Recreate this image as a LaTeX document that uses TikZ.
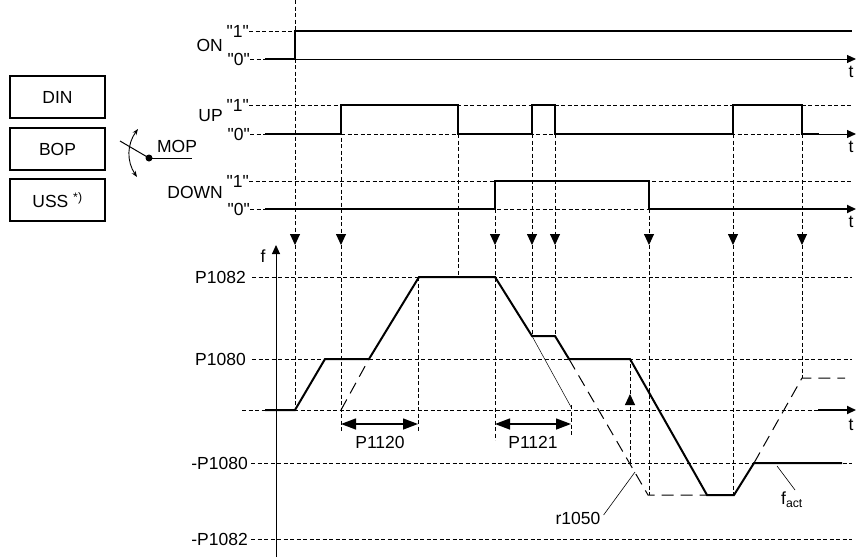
\documentclass[tikz,border=0pt]{standalone}
\usepackage{fontspec}
\newfontfamily\arial{Liberation Sans}
\usetikzlibrary{arrows.meta}

\begin{document}
\begin{tikzpicture}[x=1pt,y=-1pt,
  every node/.style={font=\arial\fontsize{17.5}{20}\selectfont,inner sep=0pt},
  sig/.style={line width=2pt},
  axis/.style={line width=1pt,-{Triangle[length=9pt,width=8pt]}},
  gridline/.style={line width=0.9pt,dash pattern=on 4pt off 2.5pt},
  trig/.style={gridline,-{Triangle[length=11pt,width=10pt]}},
  setp/.style={line width=1pt,dash pattern=on 12pt off 7pt},
  dimline/.style={line width=1.4pt,{Triangle[length=15pt,width=11pt]}-{Triangle[length=15pt,width=11pt]}},
  src/.style={draw,line width=1.2pt,minimum width=95pt,minimum height=42pt}]

  \useasboundingbox (0,0) rectangle (856,557);

  % sources and switch
  \node[src] (din) at (57.5,97) {DIN};
  \node[src] (bop) at (57.5,149) {BOP};
  \node[src] (uss) at (57.5,200) {USS \textsuperscript{*)}};
  \node[circle,fill,minimum size=7pt] (pivot) at (149,158) {};
  \coordinate (mopend) at (192,158);
  \coordinate (blade) at (120,141);
  \draw[line width=1pt] (pivot.center) -- (mopend);
  \draw[line width=1pt] (pivot.center) -- (blade);
  \draw[line width=0.9pt,{Stealth[length=6pt]}-{Stealth[length=6pt]}] (138,129) to[bend right=35] (137,177);
  \node (mop) at (177,146) {MOP};

  % signal labels
  \node[anchor=east] (on) at (223,45) {ON};
  \node[anchor=east] (on1) at (249,31) {"1"};
  \node[anchor=east] (on0) at (250,59) {"0"};
  \node[anchor=east] (up) at (223,116) {UP};
  \node[anchor=east] (up1) at (249,105) {"1"};
  \node[anchor=east] (up0) at (250,134) {"0"};
  \node[anchor=east] (down) at (223,192) {DOWN};
  \node[anchor=east] (dn1) at (249,181) {"1"};
  \node[anchor=east] (dn0) at (250,209) {"0"};
  \node (ton) at (851,72) {t};
  \node (tup) at (851,147) {t};
  \node (tdn) at (851,222) {t};

  % ON
  \draw[gridline] (on1.east) -- (295,31);
  \draw[gridline] (on0.east) -- (265,59);
  \draw[axis] (295,59) -- (856,59);
  \draw[sig] (265,59) -- (295,59) -- (295,31) -- (852,31);

  % UP
  \draw[gridline] (up1.east) -- (852,105);
  \draw[gridline] (up0.east) -- (820,134);
  \draw[axis] (815,134) -- (856,134);
  \draw[sig] (265,134) -- (341,134) -- (341,105) -- (458,105) -- (458,134) -- (532,134) -- (532,105)
    -- (555,105) -- (555,134) -- (733,134) -- (733,105) -- (802,105) -- (802,134) -- (819,134);

  % DOWN
  \draw[gridline] (dn1.east) -- (852,181);
  \draw[gridline] (dn0.east) -- (649,209);
  \draw[sig,-{Triangle[length=9pt,width=8pt]}] (265,209) -- (495,209) -- (495,181) -- (649,181)
    -- (649,209) -- (856,209);

  % frequency axis and levels
  \node (f) at (263,256) {f};
  \node[anchor=east] (p1082) at (246,277) {P1082};
  \node[anchor=east] (p1080) at (246,359) {P1080};
  \node[anchor=east] (m1080) at (248,463) {-P1080};
  \node[anchor=east] (m1082) at (248,539) {-P1082};
  \node (tf) at (851,425) {t};
  \draw[axis] (276,557) -- (276,245);
  \draw[gridline] (p1082.east) ++(6,0) -- (852,277);
  \draw[gridline] (p1080.east) ++(6,0) -- (852,359);
  \draw[gridline] (m1080.east) ++(3,0) -- (852,463);
  \draw[gridline] (m1082.east) ++(3,0) -- (852,539);
  \draw[gridline] (242,410) -- (818,410);
  \draw[sig,-{Triangle[length=9pt,width=8pt]}] (818,410) -- (856,410);

  % trigger lines
  \draw[trig] (295,0) -- (295,245);   \draw[gridline] (295,245) -- (295,410);
  \draw[trig] (341,105) -- (341,245); \draw[gridline] (341,245) -- (341,432);
  \draw[gridline] (458,134) -- (458,277);
  \draw[trig] (495,209) -- (495,245); \draw[gridline] (495,245) -- (495,440);
  \draw[trig] (532,134) -- (532,245); \draw[gridline] (532,245) -- (532,336);
  \draw[trig] (555,134) -- (555,245); \draw[gridline] (555,245) -- (555,336);
  \draw[trig] (649,209) -- (649,245); \draw[gridline] (649,245) -- (649,495);
  \draw[trig] (733,134) -- (733,245); \draw[gridline] (733,245) -- (733,495);
  \draw[trig] (802,134) -- (802,245); \draw[gridline] (802,245) -- (802,378);
  \draw[gridline] (418,277) -- (418,432);
  \draw[gridline] (571,405) -- (571,436);
  \draw[gridline,-{Triangle[length=11pt,width=10pt]}] (630,463) -- (630,394);
  \draw[gridline] (630,394) -- (630,359);

  % ramp times
  \draw[dimline] (341,424) -- (418,424);
  \draw[dimline] (495,424) -- (571,424);
  \node (p1120) at (380,442) {P1120};
  \node (p1121) at (533,442) {P1121};

  % setpoint r1050
  \draw[setp] (341,410) -- (369,359);
  \draw[setp] (569,359) -- (648,495) -- (707,495);
  \draw[setp] (754,463) -- (802,378) -- (845,378);
  \draw[line width=0.5pt] (532,336) -- (571,407);

  % actual frequency
  \draw[sig] (265,410) -- (295,410) -- (325,359) -- (369,359) -- (419,277) -- (495,277) -- (532,336)
    -- (555,336) -- (569,359) -- (630,359) -- (707,495) -- (734,495) -- (754,463) -- (842,463);

  \node (r1050) at (578,518) {r1050};
  \node (fact) at (792,500) {f\textsubscript{act}};
  \draw[line width=0.6pt] (r1050.east) ++(3,-3) -- (635,472);
  \draw[line width=0.6pt] (795,490) -- (777,466);
\end{tikzpicture}
\end{document}
